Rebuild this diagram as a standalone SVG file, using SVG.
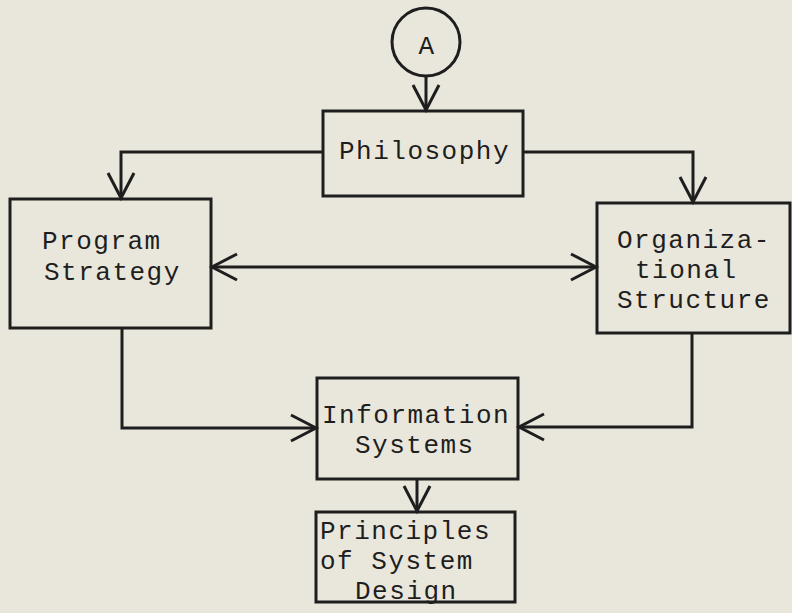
<svg xmlns="http://www.w3.org/2000/svg" width="792" height="613" viewBox="0 0 792 613">
  <style>
    .box { fill: none; stroke: #1e1e1e; stroke-width: 3; }
    .wire { fill: none; stroke: #1e1e1e; stroke-width: 3; }
    .lbl { font-family: "Liberation Mono", "DejaVu Sans Mono", monospace; font-size: 26px; letter-spacing: 1.5px; fill: #1e1e1e; }
  </style>
  <defs>
    <marker id="head" markerUnits="userSpaceOnUse" markerWidth="40" markerHeight="40" viewBox="-30 -20 40 40" refX="0" refY="0" orient="auto-start-reverse">
      <path d="M-25,-13 L0,0 L-25,13" fill="none" stroke="#1e1e1e" stroke-width="3"/>
    </marker>
  </defs>
  <rect width="792" height="613" fill="#e9e7dc"/>

  <g id="connectors">
    <line class="wire" x1="426" y1="76" x2="426" y2="110" marker-end="url(#head)"/>
    <polyline class="wire" points="323,152 121,152 121,198" marker-end="url(#head)"/>
    <polyline class="wire" points="523,152 693,152 693,202" marker-end="url(#head)"/>
    <line class="wire" x1="212" y1="267" x2="596" y2="267" marker-start="url(#head)" marker-end="url(#head)"/>
    <polyline class="wire" points="122,328 122,428 316,428" marker-end="url(#head)"/>
    <polyline class="wire" points="692,333 692,427 519,427" marker-end="url(#head)"/>
    <line class="wire" x1="417" y1="479" x2="417" y2="511" marker-end="url(#head)"/>
  </g>

  <g id="node-a">
    <circle class="box" cx="426" cy="42" r="34"/>
    <text class="lbl" x="427" y="54" text-anchor="middle">A</text>
  </g>

  <g id="node-philosophy">
    <rect class="box" x="323" y="111" width="200" height="85"/>
    <text class="lbl" x="339" y="159">Philosophy</text>
  </g>

  <g id="node-program-strategy">
    <rect class="box" x="10" y="199" width="201" height="129"/>
    <text class="lbl" x="42" y="249">Program</text>
    <text class="lbl" x="44" y="280">Strategy</text>
  </g>

  <g id="node-organizational-structure">
    <rect class="box" x="597" y="203" width="193" height="130"/>
    <text class="lbl" x="617" y="248">Organiza-</text>
    <text class="lbl" x="635" y="278">tional</text>
    <text class="lbl" x="617" y="308">Structure</text>
  </g>

  <g id="node-information-systems">
    <rect class="box" x="317" y="378" width="201" height="101"/>
    <text class="lbl" x="322" y="423">Information</text>
    <text class="lbl" x="355" y="453">Systems</text>
  </g>

  <g id="node-principles">
    <rect class="box" x="316" y="512" width="199" height="90"/>
    <text class="lbl" x="320" y="539">Principles</text>
    <text class="lbl" x="320" y="569">of System</text>
    <text class="lbl" x="355" y="599">Design</text>
  </g>
</svg>
